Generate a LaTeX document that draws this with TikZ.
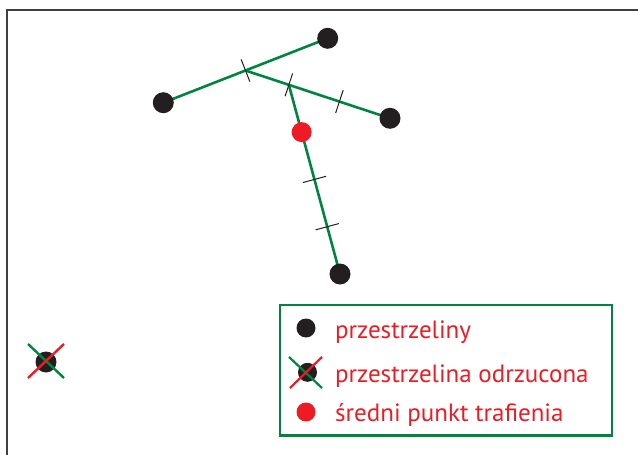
\documentclass[tikz,border=0pt]{standalone}
\usepackage{fontspec}
\setmainfont{PT Sans}
\usetikzlibrary{calc}
\definecolor{dgreen}{HTML}{00853F}
\definecolor{dred}{HTML}{ED1C24}
\definecolor{dblack}{HTML}{231F20}
\begin{document}
\begin{tikzpicture}[x=1pt,y=-1pt,
  shot/.style={circle,fill=dblack,inner sep=0pt,minimum size=21pt},
  mean/.style={circle,fill=dred,inner sep=0pt,minimum size=20pt},
  path/.style={draw=dgreen,line width=2.6pt},
  tick/.style={draw=dblack,line width=1pt},
  legtext/.style={text=dred,font=\fontsize{25}{28}\selectfont,anchor=base west,inner sep=0pt}]
\useasboundingbox (0,0) rectangle (638,455);
\draw[draw=black!75,line width=1.3pt] (7,455) -- (7,10) -- (638,10);
% shots
\coordinate (A) at (327.7,38.3);
\coordinate (B) at (163.3,102.7);
\coordinate (C) at (390,118.3);
\coordinate (D) at (340,274);
\coordinate (M1) at ($(A)!0.5!(B)$);
\coordinate (M2) at ($(M1)!0.30!(C)$);
\coordinate (M3) at ($(M2)!1/4!(D)$);
\draw[path] (B) -- (A);
\draw[path] (M1) -- (C);
\draw[path] (M2) -- (D);
% ticks
\foreach \s/\e/\f in {B/A/0.5, M1/C/0.30, M1/C/0.65, M2/D/0.5, M2/D/0.75}{
  \draw[tick] ($(\s)!\f!(\e)!12pt!90:(\e)$) -- ($(\s)!\f!(\e)!12pt!-90:(\e)$);
}
\node[shot] (a) at (A) {};
\node[shot] (b) at (B) {};
\node[shot] (c) at (C) {};
\node[shot] (d) at (D) {};
\node[mean] (m) at (M3) {};
% rejected shot
\node[shot] (r) at (46,362) {};
\draw[dgreen,line width=2.4pt] (28,344) -- (64,378);
\draw[dred,line width=2.4pt] (28,378) -- (64,344);
% legend
\draw[dgreen,line width=2.6pt] (280,305) rectangle (612,435.7);
\node[shot,minimum size=19pt] (l1) at (306,328) {};
\node[legtext] (t1) at (335,338) {przestrzeliny};
\node[shot,minimum size=19pt] (l2) at (307.5,372.3) {};
\draw[dgreen,line width=2.2pt] (289,357) -- (322,388);
\draw[dred,line width=2.2pt] (290,388) -- (322,357);
\node[legtext] (t2) at (335,382.3) {przestrzelina odrzucona};
\node[mean,minimum size=19pt] (l3) at (306,412) {};
\node[legtext] (t3) at (335,421.7) {średni punkt trafienia};
\end{tikzpicture}
\end{document}
